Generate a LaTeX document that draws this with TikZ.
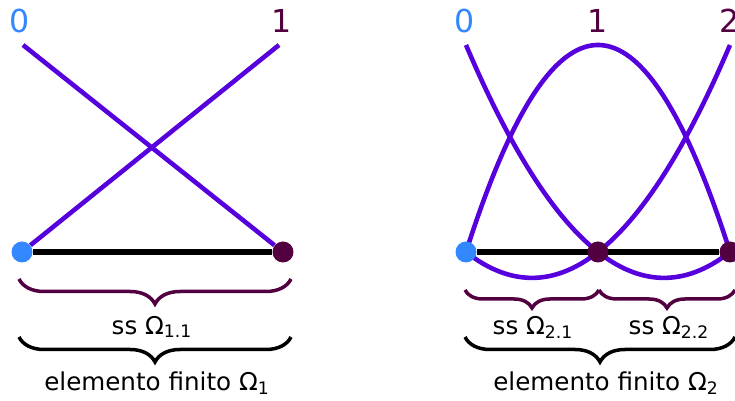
\documentclass[tikz,border=0pt]{standalone}
\usepackage{fontspec}
\setmainfont{DejaVu Sans}
\usetikzlibrary{decorations.pathreplacing, backgrounds, positioning}
\definecolor{dofblue}{RGB}{51, 136, 255}
\definecolor{dofwine}{RGB}{82, 0, 64}
\definecolor{basisviolet}{RGB}{85, 0, 221}

\begin{document}
\begin{tikzpicture}[
  x=0.02cm, y=-0.02cm,
  dof/.style={circle, fill=#1, inner sep=0pt, minimum size=0.42cm},
  baseline1d/.style={line width=3.2pt, black},
  basisfn/.style={line width=2.6pt, basisviolet},
  num/.style={font=\fontsize{18}{20}\selectfont, text=#1},
  lbl/.style={font=\fontsize{14}{16}\selectfont},
  brc/.style={decorate, decoration={brace, mirror, amplitude=#1}, line width=2pt}
]
\useasboundingbox (0,0) rectangle (735,401);

% Linear element (nodes 0,1)
\node[dof=dofblue] (a0) at (22,252) {};
\node[dof=dofwine] (a1) at (283,252) {};
\coordinate (a0top) at (23,45);
\coordinate (a1top) at (279,45);
\node[num=dofblue] (na0) at (20,21) {0};
\node[num=dofwine] (na1) at (282,21) {1};

% Quadratic element (nodes 0,1,2)
\node[dof=dofblue] (b0) at (466,252) {};
\node[dof=dofwine] (b1) at (598,252) {};
\node[dof=dofwine] (b2) at (730,252) {};
\node[num=dofblue] (nb0) at (465,21) {0};
\node[num=dofwine] (nb1) at (598,21) {1};
\node[num=dofwine] (nb2) at (730,21) {2};

\begin{pgfonlayer}{background}
% shape functions, linear
\draw[basisfn] (a0top) -- (a1);
\draw[basisfn] (a1top) -- (a0);
\draw[baseline1d] (a0) -- (a1);
% shape functions, quadratic
\draw[basisfn] plot[domain=0:2, samples=80, smooth] ({466+132*\x},{252-207*(\x-1)*(\x-2)/2});
\draw[basisfn] plot[domain=0:2, samples=80, smooth] ({466+132*\x},{252-207*\x*(2-\x)});
\draw[basisfn] plot[domain=0:2, samples=80, smooth] ({466+132*\x},{252-207*\x*(\x-1)/2});
\draw[baseline1d] (b0) -- (b2);
\end{pgfonlayer}

% Braces, linear element
\draw[brc=0.5cm, dofwine] (19,279) -- (291,279);
\node[lbl] (ss11) at (152,327) {ss Ω\textsubscript{1.1}};
\draw[brc=0.5cm] (19,337) -- (291,337);
\node[lbl] (el1) at (157,383) {elemento finito Ω\textsubscript{1}};

% Braces, quadratic element
\draw[brc=0.36cm, dofwine] (465,290) -- (599,290);
\draw[brc=0.36cm, dofwine] (599,290) -- (735,290);
\node[lbl] (ss21) at (533,327) {ss Ω\textsubscript{2.1}};
\node[lbl] (ss22) at (669,327) {ss Ω\textsubscript{2.2}};
\draw[brc=0.5cm] (465,337) -- (735,337);
\node[lbl] (el2) at (606,383) {elemento finito Ω\textsubscript{2}};

\end{tikzpicture}
\end{document}
